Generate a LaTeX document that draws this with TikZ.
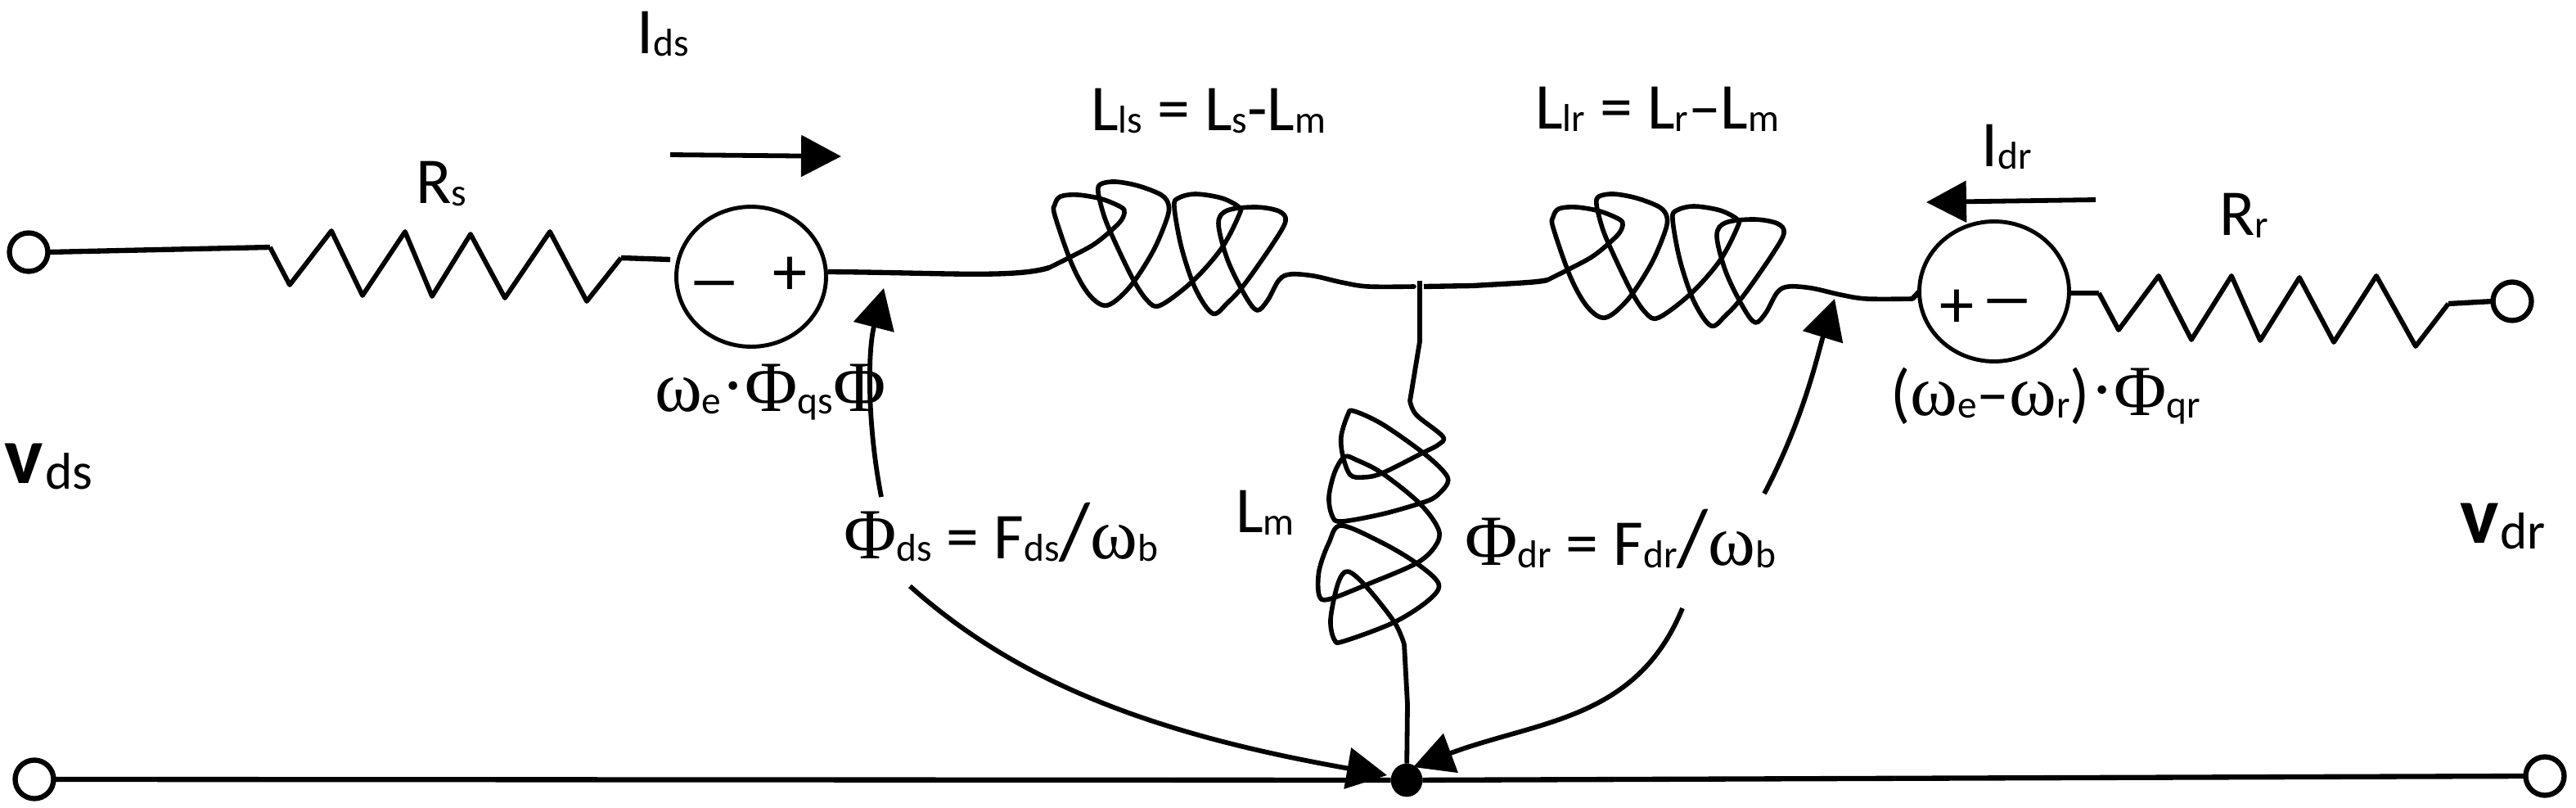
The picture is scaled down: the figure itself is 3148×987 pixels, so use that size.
\documentclass[tikz,border=0pt]{standalone}
\usepackage{fontspec}
\usepackage{graphicx}
\setmainfont{Carlito}
\newfontfamily\grk{Liberation Serif}
\usetikzlibrary{arrows.meta,shapes.geometric}
\newcommand{\sbx}[1]{\raisebox{-2pt}{\fontsize{27}{29}\selectfont #1}}
\newcommand{\sby}[1]{\raisebox{-4.5pt}{\fontsize{36}{38}\selectfont #1}}
\newcommand{\Ph}{{\grk\fontsize{50}{50}\selectfont Φ}}
\newcommand{\om}{{\grk\fontsize{50}{50}\selectfont ω}}
\newcommand{\dt}{\raisebox{1pt}{\grk\fontsize{50}{50}\selectfont ·}}
\newcommand{\bigsl}{{\fontsize{56}{56}\selectfont /}}
\tikzset{
  wire/.style={line width=3.6pt,line join=round},
  thinw/.style={line width=3.3pt,line join=round},
  coilw/.style={line width=3.2pt,line join=round,line cap=round},
  flow/.style={line width=3.3pt,-{Triangle[length=0.98cm,width=1cm]}},
  source/.style={draw,ellipse,line width=2.8pt,inner sep=0pt,outer sep=0pt,minimum width=3.66cm,minimum height=3.42cm},
  term/.style={draw,circle,line width=3.6pt,fill=white,inner sep=0pt,outer sep=0pt,minimum size=0.94cm},
  lab/.style={anchor=base west,inner sep=0pt,outer sep=0pt,font=\fontsize{45.5}{50}\selectfont},
  sign/.style={inner sep=0pt,outer sep=0pt,font=\fontsize{48}{50}\selectfont},
}
\newcommand{\coilpts}{plot[smooth,tension=0.55] coordinates {(1282,327)(1310,313)(1339,297)(1367,273)(1374,260)(1370,253)(1346,243)(1317,238)(1296,240)(1289,250)(1289,263)(1310,323)(1331,360)(1353,373)(1381,350)(1409,307)(1426,267)(1428,250)(1419,238)(1391,227)(1363,222)(1345,225)(1342,235)(1349,263)(1360,290)(1384,340)(1402,367)(1418,373)(1458,343)(1493,303)(1514,263)(1514,253)(1493,242)(1461,237)(1440,242)(1435,253)(1444,303)(1461,353)(1482,383)(1500,370)(1521,347)(1556,297)(1571,270)(1563,258)(1535,253)(1500,257)(1489,273)(1500,317)(1521,360)(1536,379)(1549,367)(1563,342)(1577,335)(1605,337)(1640,345)(1672,350)(1728,350)}}
\begin{document}
\begin{tikzpicture}[x=0.02cm,y=-0.02cm]
\useasboundingbox (0,0) rectangle (3148,987);
\fill[white] (0,0) rectangle (3148,987);

% terminals, sources, junction
\node[term] (t1) at (35,308) {};
\node[term] (t2) at (3070,368) {};
\node[term] (t3) at (42,952) {};
\node[term] (t4) at (3110,948) {};
\node[source] (s1) at (918,338) {};
\node[source] (s2) at (2437,356) {};
\node[draw,ellipse,fill=black,inner sep=0pt,minimum width=0.76cm,minimum height=0.8cm] (gnd) at (1719,953) {};
\coordinate (js) at (1735,343);
\coordinate (ca) at (1282,327);
\coordinate (ra) at (330,302);
\coordinate (rb) at (759,315);
\coordinate (rc) at (2565,358);
\coordinate (rd) at (2992,371);

% ground rail
\draw[wire] (t3.east) -- (gnd);
\draw[wire] (gnd) -- (t4.west);

% stator resistor
\draw[wire] (t1.east) -- (ra);
\draw[thinw] (ra) -- (354,348) -- (405,282) -- (443,361) -- (495,283) -- (528,362) -- (575,286) -- (617,364) -- (672,283) -- (717,368) -- (rb);
\draw[wire] (rb) -- (819,317);

% rotor resistor
\draw[wire] (s2.east) ++(2,2) -- (rc);
\draw[thinw] (rc) -- (2589,403) -- (2638,337) -- (2678,415) -- (2727,337) -- (2762,416) -- (2810,339) -- (2852,418) -- (2904,337) -- (2952,423) -- (rd);
\draw[wire] (rd) -- (t2.west);

% series inductors
\draw[wire] (s1.east) ++(2,-6) .. controls (1150,333) and (1240,340) .. (ca);
\draw[coilw] \coilpts;
\draw[wire] (1740,350) -- (1800,349) .. controls (1850,346) and (1880,345) .. (1891,342);
\begin{scope}[shift={(609,15)}]
\draw[coilw] \coilpts;
\end{scope}
\draw[wire] (2337,365) -- (s2.west);
\draw[thinw] (js) -- (1735,417) -- (1723,490);

% magnetising inductor
\draw[coilw] plot[smooth,tension=0.55] coordinates {(1723,490)(1731,507)(1763,533)(1758,543)(1739,553)(1689,578)(1666,583)(1650,580)(1641,557)(1639,533)(1647,507)(1654,502)(1689,518)(1739,553)(1765,577)(1769,590)(1754,607)(1735,615)(1689,628)(1639,637)(1628,630)(1624,607)(1631,577)(1643,558)(1658,562)(1689,578)(1735,615)(1758,647)(1754,667)(1731,688)(1673,713)(1624,732)(1612,727)(1612,697)(1624,663)(1639,642)(1689,663)(1731,688)(1758,713)(1746,733)(1704,760)(1643,783)(1631,782)(1626,757)(1635,713)(1647,698)(1670,717)(1704,760)(1716,787)};
\draw[thinw] (1716,787) -- (1720,860) -- (gnd);

% flow and current arrows
\coordinate (a1s) at (1077,607); \coordinate (a1e) at (1080,352);
\coordinate (a2s) at (2156,603); \coordinate (a2e) at (2242,365);
\coordinate (a3s) at (1112,716); \coordinate (a3e) at (1695,947);
\coordinate (a4s) at (2056,743); \coordinate (a4e) at (1727,937);
\coordinate (i1s) at (819,189); \coordinate (i1e) at (1028,191);
\coordinate (i2s) at (2561,244); \coordinate (i2e) at (2354,247);
\draw[flow] (a1s) .. controls (1060,520) and (1060,430) .. (a1e);
\draw[flow] (a2s) .. controls (2205,510) and (2222,430) .. (a2e);
\draw[flow] (a3s) .. controls (1240,830) and (1400,895) .. (a3e);
\draw[flow] (a4s) .. controls (2000,880) and (1880,880) .. (a4e);
\draw[flow] (i1s) -- (i1e);
\draw[flow] (i2s) -- (i2e);

% signs
\node[sign] (m1) at (873,356) {\scalebox{1.6}[1]{–}};
\node[sign] (p1) at (965,337) {+};
\node[sign] (p2) at (2391,377) {+};
\node[sign] (m2) at (2453,378) {\scalebox{1.6}[1]{–}};

% labels
\node[lab] (lids) at (778,65) {I\sbx{ds}};
\node[lab] (lrs) at (508,248) {R\sbx{s}};
\node[lab] (llls) at (1333,159) {L\sbx{ls} = L\sbx{s}-L\sbx{m}};
\node[lab] (lllr) at (1876,157) {L\sbx{lr} = L\sbx{r}--L\sbx{m}};
\node[lab] (lidr) at (2421,203) {I\sbx{dr}};
\node[lab] (lrr) at (2712,287) {R\sbx{r}};
\node[lab] (llm) at (1510,650) {L\sbx{m}};
\node[lab] (lws) at (800,502) {\om\sbx{e}\dt\Ph\sbx{qs}\Ph};
\node[lab] (lwr) at (2310,507) {(\om\sbx{e}--\om\sbx{r})\dt\Ph\sbx{qr}};
\node[lab] (lpd) at (1031,682) {\Ph\sbx{ds} = F\sbx{ds}\bigsl\om\sbx{b}};
\node[lab] (lpr) at (1790,690) {\Ph\sbx{dr} = F\sbx{dr}\bigsl\om\sbx{b}};
\node[lab,font=\fontsize{57}{60}\selectfont\bfseries] (lvds) at (6,590) {v\hspace{1pt}\sby{\mdseries ds}};
\node[lab,font=\fontsize{57}{60}\selectfont\bfseries] (lvdr) at (3006,663) {v\hspace{1pt}\sby{\mdseries dr}};
\end{tikzpicture}
\end{document}
